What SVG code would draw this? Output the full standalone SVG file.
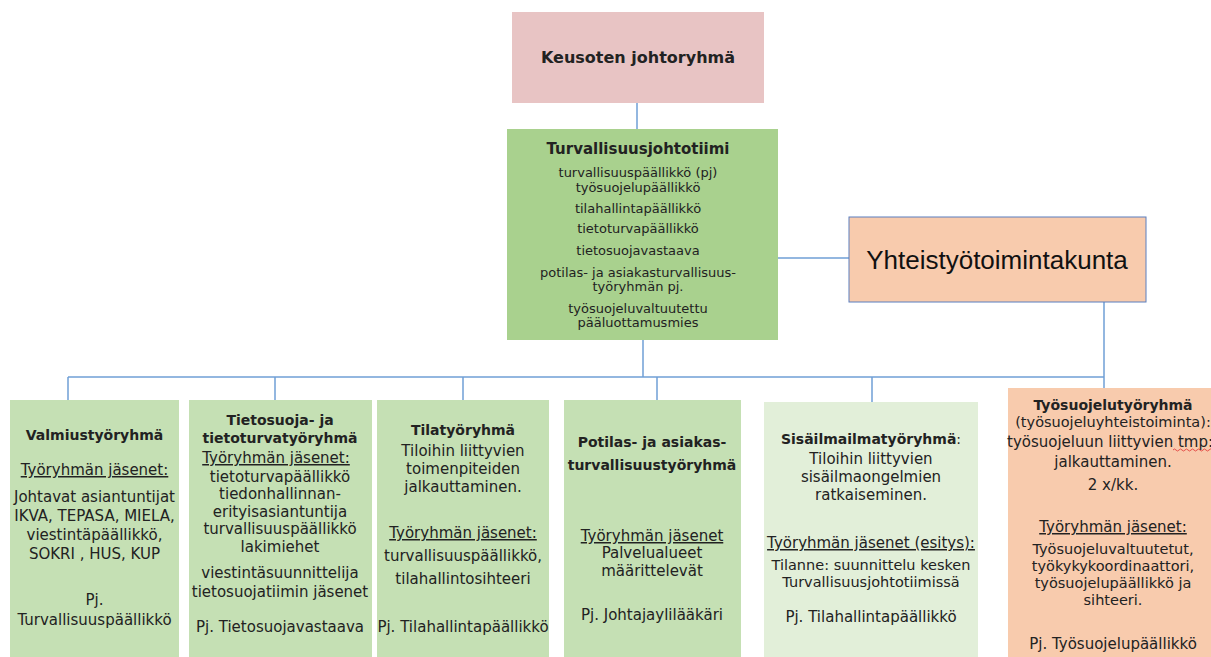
<svg xmlns="http://www.w3.org/2000/svg" width="1211" height="657" viewBox="0 0 1211 657">
<style>
text{font-family:"DejaVu Sans","Liberation Sans",sans-serif;fill:#222;text-anchor:middle}
.t{font-weight:bold;font-size:14px}
.b{font-size:15px}
.m{font-size:14px}
.s{font-size:13px}
.u{text-decoration:underline}
.ln{stroke:#6f9fd6;stroke-width:1.5;fill:none}
</style>
<rect width="1211" height="657" fill="#ffffff"/>
<g id="connectors" class="ln">
<line x1="637" y1="103" x2="637" y2="129"/>
<line x1="643" y1="340" x2="643" y2="377"/>
<line x1="778" y1="258" x2="849" y2="258"/>
<line x1="1104" y1="302" x2="1104" y2="388"/>
<line x1="68" y1="377" x2="1104" y2="377"/>
<line x1="68" y1="377" x2="68" y2="400"/>
<line x1="275" y1="377" x2="275" y2="400"/>
<line x1="463" y1="377" x2="463" y2="400"/>
<line x1="657" y1="377" x2="657" y2="400"/>
<line x1="872" y1="377" x2="872" y2="402"/>
</g>
<g id="keusote">
<rect x="512" y="12" width="252" height="91" fill="#e8c4c4"/>
<text x="638" y="63" style="font-weight:bold;font-size:16px">Keusoten johtoryhmä</text>
</g>
<g id="turvallisuusjohtotiimi">
<rect x="507" y="129" width="271" height="211" fill="#a9d18e"/>
<text x="638" y="154" style="font-weight:bold;font-size:15px">Turvallisuusjohtotiimi</text>
<text class="s" x="638" y="177">turvallisuuspäällikkö (pj)</text>
<text class="s" x="638" y="192">työsuojelupäällikkö</text>
<text class="s" x="638" y="213">tilahallintapäällikkö</text>
<text class="s" x="638" y="233">tietoturvapäällikkö</text>
<text class="s" x="638" y="255">tietosuojavastaava</text>
<text class="s" x="638" y="277">potilas- ja asiakasturvallisuus-</text>
<text class="s" x="638" y="291">työryhmän pj.</text>
<text class="s" x="638" y="313">työsuojeluvaltuutettu</text>
<text class="s" x="638" y="327">pääluottamusmies</text>
</g>
<g id="yhteistyotoimintakunta">
<rect x="849" y="217" width="297" height="85" fill="#f8cbad" stroke="#5b7fbf" stroke-width="1"/>
<text x="997" y="269" style="font-family:'Liberation Sans',Arial,sans-serif;font-size:26px;fill:#111">Yhteistyötoimintakunta</text>
</g>
<g id="valmius">
<rect x="10" y="400" width="169" height="257" fill="#c5e0b4"/>
<text class="t" x="94.5" y="440">Valmiustyöryhmä</text>
<text class="b u" x="94.5" y="475">Työryhmän jäsenet:</text>
<text class="b" x="94.5" y="502">Johtavat asiantuntijat</text>
<text class="b" x="94.5" y="521">IKVA, TEPASA, MIELA,</text>
<text class="b" x="94.5" y="540">viestintäpäällikkö,</text>
<text class="b" x="94.5" y="559">SOKRI , HUS, KUP</text>
<text class="b" x="94.5" y="605">Pj.</text>
<text class="b" x="94.5" y="625">Turvallisuuspäällikkö</text>
</g>
<g id="tietosuoja">
<rect x="189" y="400" width="183" height="257" fill="#c5e0b4"/>
<text class="t" x="280" y="425">Tietosuoja- ja</text>
<text class="t" x="280" y="443">tietoturvatyöryhmä</text>
<text class="b u" x="276" y="463">Työryhmän jäsenet:</text>
<text class="b" x="280" y="481.5">tietoturvapäällikkö</text>
<text class="b" x="280" y="499">tiedonhallinnan-</text>
<text class="b" x="280" y="516.5">erityisasiantuntija</text>
<text class="b" x="280" y="534">turvallisuuspäällikkö</text>
<text class="b" x="280" y="551.5">lakimiehet</text>
<text class="b" x="280" y="578">viestintäsuunnittelija</text>
<text class="b" x="280" y="597">tietosuojatiimin jäsenet</text>
<text class="b" x="280" y="632">Pj. Tietosuojavastaava</text>
</g>
<g id="tila">
<rect x="377" y="400" width="172" height="257" fill="#c5e0b4"/>
<text class="t" x="463" y="435">Tilatyöryhmä</text>
<text class="b" x="463" y="456">Tiloihin  liittyvien</text>
<text class="b" x="463" y="474">toimenpiteiden</text>
<text class="b" x="463" y="492">jalkauttaminen.</text>
<text class="b u" x="463" y="538">Työryhmän jäsenet:</text>
<text class="b" x="463" y="561">turvallisuuspäällikkö,</text>
<text class="b" x="463" y="584">tilahallintosihteeri</text>
<text class="b" x="463" y="632">Pj. Tilahallintapäällikkö</text>
</g>
<g id="potilas">
<rect x="564" y="400" width="177" height="257" fill="#c5e0b4"/>
<text class="t" x="652" y="447">Potilas- ja asiakas-</text>
<text class="t" x="652" y="470">turvallisuustyöryhmä</text>
<text class="b u" x="652" y="541">Työryhmän jäsenet</text>
<text class="b" x="652" y="558">Palvelualueet</text>
<text class="b" x="652" y="576">määrittelevät</text>
<text class="b" x="652" y="620">Pj. Johtajaylilääkäri</text>
</g>
<g id="sisailma">
<rect x="764" y="402" width="214" height="255" fill="#e2efd9"/>
<text x="871" y="444" style="font-size:14px"><tspan style="font-weight:bold">Sisäilmailmatyöryhmä</tspan>:</text>
<text class="b" x="871" y="464">Tiloihin  liittyvien</text>
<text class="b" x="871" y="482">sisäilmaongelmien</text>
<text class="b" x="871" y="500">ratkaiseminen.</text>
<text class="b u" x="871" y="548">Työryhmän jäsenet (esitys):</text>
<text class="b" x="871" y="569.5" style="font-size:14.5px">Tilanne: suunnittelu kesken</text>
<text class="b" x="871" y="586.5" style="font-size:14.5px">Turvallisuusjohtotiimissä</text>
<text class="b" x="871" y="622">Pj. Tilahallintapäällikkö</text>
</g>
<g id="tyosuojelu">
<rect x="1008" y="388" width="210" height="269" fill="#f8cbad"/>
<text class="t" x="1113" y="410">Työsuojelutyöryhmä</text>
<text class="b" x="1113" y="427" style="font-size:14.5px">(työsuojeluyhteistoiminta):</text>
<text class="b" x="1007" y="447" style="text-anchor:start">työsuojeluun liittyvien tmp:n</text>
<path d="M1173,450 q1.5,-2 3,0 t3,0 t3,0 t3,0 t3,0 t3,0 t3,0 t3,0 t3,0 t3,0 t3,0 t3,0 t3,0" stroke="#e03030" stroke-width="0.8" fill="none"/>
<text class="b" x="1113" y="467">jalkauttaminen.</text>
<text class="b" x="1113" y="490">2 x/kk.</text>
<text class="b u" x="1113" y="532">Työryhmän jäsenet:</text>
<text class="b" x="1113" y="554" style="font-size:14.5px">Työsuojeluvaltuutetut,</text>
<text class="b" x="1113" y="571" style="font-size:14.5px">työkykykoordinaattori,</text>
<text class="b" x="1113" y="588" style="font-size:14.5px">työsuojelupäällikkö ja</text>
<text class="b" x="1113" y="605" style="font-size:14.5px">sihteeri.</text>
<text class="b" x="1113" y="649">Pj. Työsuojelupäällikkö</text>
</g>
</svg>
